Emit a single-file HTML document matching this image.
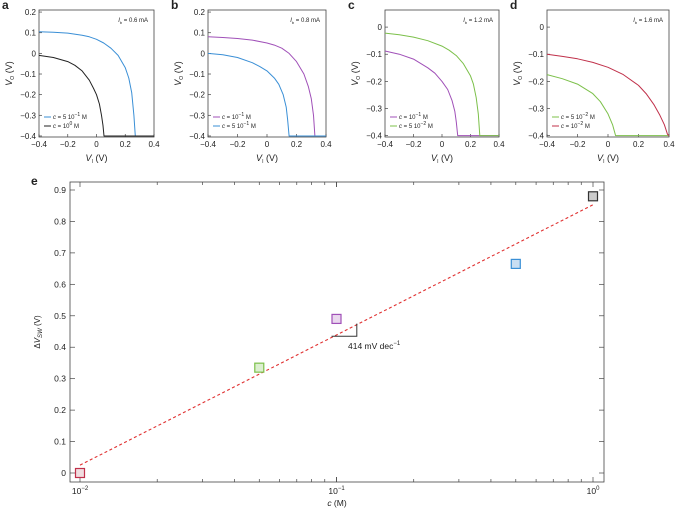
<!DOCTYPE html>
<html><head><meta charset="utf-8"><style>
body{margin:0;background:#fff;font-family:"Liberation Sans",sans-serif;overflow:hidden}
svg{display:block}
</style></head><body>
<svg id="fig" width="676" height="511" font-family="Liberation Sans, sans-serif"></svg>
<script>
const xTicksTop=[-0.4,-0.2,0,0.2,0.4];
const xTickLabelsTop=["−0.4","−0.2","0","0.2","0.4"];
const yTicksAB=[0.2,0.1,0,-0.1,-0.2,-0.3,-0.4];
const yTicksCD=[0,-0.1,-0.2,-0.3,-0.4];
const aBlueX=[-0.4,-0.3,-0.2,-0.1,-0.05,0,0.05,0.1,0.15,0.2,0.225,0.245,0.26,0.27,0.4];
const aBlueY=[0.105,0.102,0.098,0.088,0.08,0.068,0.05,0.025,-0.01,-0.07,-0.12,-0.19,-0.3,-0.4,-0.4];
const aBlackX=[-0.4,-0.3,-0.2,-0.15,-0.1,-0.05,-0.02,0,0.02,0.035,0.045,0.052,0.4];
const aBlackY=[-0.01,-0.02,-0.04,-0.058,-0.085,-0.13,-0.17,-0.2,-0.245,-0.3,-0.35,-0.4,-0.4];
const bPurpleX=[-0.4,-0.3,-0.2,-0.1,0,0.05,0.1,0.15,0.2,0.25,0.28,0.3,0.315,0.325,0.4];
const bPurpleY=[0.08,0.077,0.072,0.064,0.05,0.04,0.025,0.0,-0.04,-0.1,-0.16,-0.22,-0.3,-0.4,-0.4];
const bBlueX=[-0.4,-0.3,-0.2,-0.1,-0.05,0,0.05,0.08,0.11,0.13,0.14,0.15,0.4];
const bBlueY=[0.0,-0.007,-0.02,-0.045,-0.063,-0.085,-0.12,-0.15,-0.2,-0.26,-0.32,-0.4,-0.4];
const cGreenX=[-0.4,-0.3,-0.2,-0.1,0,0.05,0.1,0.15,0.2,0.22,0.24,0.255,0.265,0.4];
const cGreenY=[-0.022,-0.028,-0.037,-0.05,-0.07,-0.085,-0.105,-0.135,-0.18,-0.21,-0.26,-0.32,-0.4,-0.4];
const cPurpleX=[-0.4,-0.3,-0.2,-0.1,-0.05,0,0.04,0.07,0.09,0.1,0.11,0.4];
const cPurpleY=[-0.088,-0.1,-0.118,-0.15,-0.17,-0.2,-0.23,-0.27,-0.31,-0.35,-0.4,-0.4];
const dRedX=[-0.4,-0.3,-0.2,-0.1,0,0.1,0.2,0.25,0.3,0.34,0.37,0.39,0.4];
const dRedY=[-0.1,-0.108,-0.117,-0.13,-0.148,-0.175,-0.215,-0.245,-0.285,-0.325,-0.36,-0.395,-0.4];
const dGreenX=[-0.4,-0.3,-0.2,-0.1,-0.05,0,0.03,0.05,0.4];
const dGreenY=[-0.175,-0.19,-0.21,-0.245,-0.275,-0.32,-0.36,-0.4,-0.4];
const concE=[0.01,0.05,0.1,0.5,1];
const dvE=[0,0.335,0.49,0.665,0.88];
const fitC=[0.01,1];
const fitV=[0.025,0.853];
const yTicksE=[0,0.1,0.2,0.3,0.4,0.5,0.6,0.7,0.8,0.9];

const NS="http://www.w3.org/2000/svg";
const svg=document.getElementById('fig');
function mk(t,a,p){const e=document.createElementNS(NS,t);for(const k in a)e.setAttribute(k,a[k]);(p||svg).appendChild(e);return e;}
function txt(x,y,s,o,p){o=o||{};const e=mk('text',Object.assign({x:x,y:y,'font-size':o.fs||8,'text-anchor':o.a||'middle',fill:'#222'},o.attr||{}),p);e.innerHTML=s;return e;}
const sup=s=>'<tspan dy="-3" font-size="5">'+s+'</tspan><tspan dy="3"> M</tspan>';
const panels=[
 {id:'a',L:39,R:154,T:10,B:137,y0:0.21,y1:-0.405,yt:yTicksAB,ib:'0.6',s:[[aBlueX,aBlueY,'#3a8fd6','c = 5 10'+sup('−1')],[aBlackX,aBlackY,'#222','c = 10'+sup('0')]]},
 {id:'b',L:208,R:326,T:10,B:137,y0:0.21,y1:-0.405,yt:yTicksAB,ib:'0.8',s:[[bPurpleX,bPurpleY,'#a050b8','c = 10'+sup('−1')],[bBlueX,bBlueY,'#3a8fd6','c = 5 10'+sup('−1')]]},
 {id:'c',L:385,R:499,T:10,B:137,y0:0.063,y1:-0.405,yt:yTicksCD,ib:'1.2',s:[[cPurpleX,cPurpleY,'#a050b8','c = 10'+sup('−1')],[cGreenX,cGreenY,'#7cc04a','c = 5 10'+sup('−2')]]},
 {id:'d',L:547,R:669,T:10,B:137,y0:0.063,y1:-0.405,yt:yTicksCD,ib:'1.6',s:[[dGreenX,dGreenY,'#7cc04a','c = 5 10'+sup('−2')],[dRedX,dRedY,'#c0304a','c = 10'+sup('−2')]]}
];
panels.forEach(P=>{
 const g=mk('g',{});
 
 
 const X=v=>P.L+(v+0.4)/0.8*(P.R-P.L);
 const Y=v=>P.T+(P.y0-v)/(P.y0-P.y1)*(P.B-P.T);
 txt(P.L-37,9,P.id,{fs:12,a:'start',attr:{'font-weight':'bold'}},g);
 mk('rect',{x:P.L,y:P.T,width:P.R-P.L,height:P.B-P.T,fill:'none',stroke:'#444','stroke-width':0.8},g);
 xTicksTop.forEach((t,i)=>{mk('line',{x1:X(t),x2:X(t),y1:P.B,y2:P.B-3,stroke:'#444','stroke-width':0.7},g);txt(X(t),P.B+10,xTickLabelsTop[i],{},g);});
 P.yt.forEach(t=>{mk('line',{x1:P.L,x2:P.L+3,y1:Y(t),y2:Y(t),stroke:'#444','stroke-width':0.7},g);txt(P.L-3,Y(t)+3,t<0?'−'+Math.abs(t):String(t),{a:'end'},g);});
 txt((P.L+P.R)/2,P.B+24,'<tspan font-style="italic">V</tspan><tspan font-size="5" dy="2">I</tspan><tspan dy="-2"> (V)</tspan>',{fs:9},g);
 txt(0,0,'<tspan font-style="italic">V</tspan><tspan font-size="5" dy="2">O</tspan><tspan dy="-2"> (V)</tspan>',{fs:9,attr:{transform:`translate(${P.L-27},${(P.T+P.B)/2}) rotate(-90)`}},g);
 txt(P.R-6,P.T+12,'<tspan font-style="italic">I</tspan><tspan font-size="4" dy="2">b</tspan><tspan dy="-2"> = '+P.ib+' mA</tspan>',{fs:6,a:'end'},g);
 P.s.forEach((s,k)=>{
  const d=s[0].map((v,i)=>(i?'L':'M')+X(v).toFixed(1)+','+Y(s[1][i]).toFixed(1)).join(' ');
  const p=mk('path',{d:d,fill:'none',stroke:s[2],'stroke-width':1,'stroke-linejoin':'round'},g);
  
  
  const ly=P.B-20+k*9;
  mk('line',{x1:P.L+5,x2:P.L+12,y1:ly,y2:ly,stroke:s[2],'stroke-width':1},g);
  const lt=txt(P.L+14,ly+2,s[3].replace('c =','<tspan font-style="italic">c</tspan> ='),{fs:6,a:'start'},g);
  
  
 });
});

// Panel e
const E={L:70,R:604,T:182,B:482,x0:80,x1:593,yz:473,y9:190};
const ge=mk('g',{});


const XE=c=>E.x0+(Math.log10(c)+2)/2*(E.x1-E.x0);
const YE=v=>E.yz-v/0.9*(E.yz-E.y9);
txt(31,185,'e',{fs:12,a:'start',attr:{'font-weight':'bold'}},ge);
mk('rect',{x:E.L,y:E.T,width:E.R-E.L,height:E.B-E.T,fill:'none',stroke:'#444','stroke-width':0.8},ge);
yTicksE.forEach(t=>{[E.L,E.R].forEach((x,j)=>mk('line',{x1:x,x2:j?x-5:x+5,y1:YE(t),y2:YE(t),stroke:'#444','stroke-width':0.7},ge));txt(E.L-4,YE(t)+3,String(t),{fs:8.5,a:'end'},ge);});
for(let d=-2;d<0;d++)for(let m=1;m<=10;m++){const c=m*Math.pow(10,d);const x=XE(c);const len=m==1||m==10?5:3;[E.B,E.T].forEach((y,j)=>mk('line',{x1:x,x2:x,y1:y,y2:j?y+len:y-len,stroke:'#444','stroke-width':0.7},ge));}
[['10<tspan dy="-4" font-size="6">−2</tspan>',0.01],['10<tspan dy="-4" font-size="6">−1</tspan>',0.1],['10<tspan dy="-4" font-size="6">0</tspan>',1]].forEach(a=>txt(XE(a[1]),E.B+12,a[0],{fs:8.5},ge));
txt((E.L+E.R)/2,E.B+24,'<tspan font-style="italic">c</tspan> (M)',{fs:8.5},ge);
txt(0,0,'Δ<tspan font-style="italic">V</tspan><tspan font-size="6" dy="2" font-style="italic">SW</tspan><tspan dy="-2"> (V)</tspan>',{fs:8,attr:{transform:`translate(40,${(E.T+E.B)/2}) rotate(-90)`}},ge);
const fit=mk('line',{x1:XE(fitC[0]),y1:YE(fitV[0]),x2:XE(fitC[1]),y2:YE(fitV[1]),stroke:'#e03030','stroke-width':1.1,'stroke-dasharray':'3,2.5'},ge);


mk('path',{d:`M${XE(0.1)-5},${YE(0.435)} H${XE(0.12)} V${YE(0.475)}`,fill:'none',stroke:'#333','stroke-width':1},ge);
txt(348,349,'414 mV dec<tspan dy="-4" font-size="6">−1</tspan>',{fs:8.5,a:'start'},ge);
const cols=[['#c0304a','#f0dde0'],['#7cc04a','#dcefd0'],['#a050b8','#ead8ee'],['#3a8fd6','#c9def2'],['#333','#ccc']];
concE.forEach((c,i)=>{const r=mk('rect',{x:XE(c)-4.5,y:YE(dvE[i])-4.5,width:9,height:9,fill:cols[i][1],stroke:cols[i][0],'stroke-width':1.2},ge);
 
 });
</script>
</body></html>
